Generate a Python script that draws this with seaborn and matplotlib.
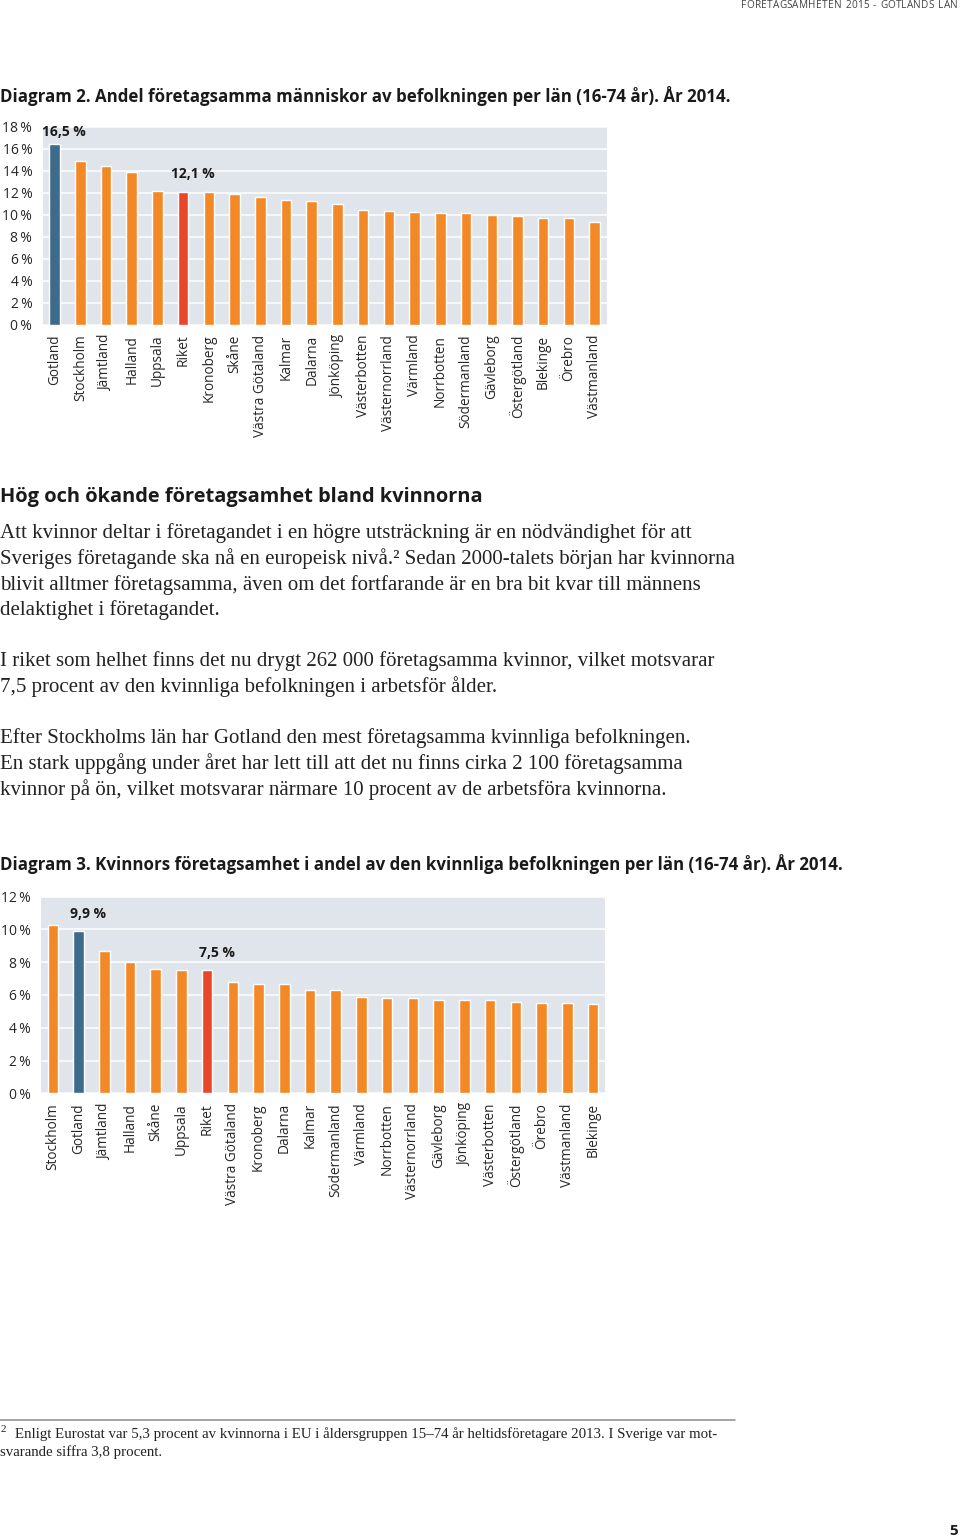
import matplotlib
matplotlib.use("Agg")
import matplotlib.pyplot as plt
import seaborn as sns
import pandas as pd

W, H = 960, 1539

# ---------------- data ----------------
lan1 = ["Gotland", "Stockholm", "Jämtland", "Halland", "Uppsala", "Riket",
        "Kronoberg", "Skåne", "Västra Götaland", "Kalmar", "Dalarna",
        "Jönköping", "Västerbotten", "Västernorrland", "Värmland", "Norrbotten",
        "Södermanland", "Gävleborg", "Östergötland", "Blekinge", "Örebro",
        "Västmanland"]
andel1 = [16.5, 14.9, 14.5, 13.9, 12.2, 12.1, 12.05, 11.95, 11.6, 11.35, 11.3,
          11.0, 10.5, 10.4, 10.3, 10.2, 10.15, 10.0, 9.9, 9.75, 9.7, 9.4]

lan2 = ["Stockholm", "Gotland", "Jämtland", "Halland", "Skåne", "Uppsala",
        "Riket", "Västra Götaland", "Kronoberg", "Dalarna", "Kalmar",
        "Södermanland", "Värmland", "Norrbotten", "Västernorrland", "Gävleborg",
        "Jönköping", "Västerbotten", "Östergötland", "Örebro", "Västmanland",
        "Blekinge"]
andel2 = [10.3, 9.9, 8.7, 8.0, 7.6, 7.5, 7.5, 6.8, 6.7, 6.65, 6.3, 6.3, 5.9,
          5.8, 5.8, 5.7, 5.7, 5.7, 5.6, 5.5, 5.5, 5.45]

labelled = {"Gotland": "blue", "Riket": "red"}
ticks1 = list(range(0, 19, 2))
ticks2 = list(range(0, 13, 2))

# ---------------- style ----------------
ORANGE = "#F38826"
BLUE = "#3D6B8C"
RED = "#E8472A"
PANEL = "#E0E5EC"
TXT = "#1A1A1A"

sns.set_style("darkgrid", {"axes.facecolor": PANEL, "grid.color": "white",
                           "axes.edgecolor": PANEL})
plt.rcParams["font.family"] = ["Open Sans", "DejaVu Sans"]

fig = plt.figure(figsize=(W / 100, H / 100), dpi=100)
fig.patch.set_facecolor("white")
renderer = fig.canvas.get_renderer()


def px_axes(l, t, r, b):
    return fig.add_axes([l / W, 1 - b / H, (r - l) / W, (b - t) / H])


def ptext(x, y, s, size=10, fit=None, **kw):
    kw.setdefault("va", "center")
    kw.setdefault("ha", "left")
    kw.setdefault("color", TXT)
    t = fig.text(x / W, 1 - y / H, s, fontsize=size, **kw)
    if fit:
        w = t.get_window_extent(renderer).width
        t.set_fontsize(size * fit / w)
    return t


def fit_size(s, width, size=10, **kw):
    t = fig.text(0, 0, s, fontsize=size, **kw)
    w = t.get_window_extent(renderer).width
    t.remove()
    return size * width / w


def spaced_text(x_left, x_right, y, s, size, **kw):
    """Letter-spaced text spread between x_left and x_right (pixels)."""
    widths = []
    for ch in s:
        t = fig.text(0, 0, ch if ch != " " else "n", fontsize=size, **kw)
        w = t.get_window_extent(renderer).width
        t.remove()
        widths.append(w * (0.55 if ch == " " else 1.0))
    gap = (x_right - x_left - sum(widths)) / (len(s) - 1)
    x = x_left
    for ch, w in zip(s, widths):
        if ch != " ":
            fig.text(x / W, 1 - y / H, ch, fontsize=size, va="center",
                     ha="left", **kw)
        x += w + gap


def draw_chart(ax, cats, vals, ticks, ax_h_px, value_fmt):
    colors = []
    for c in cats:
        if labelled.get(c) == "blue":
            colors.append(BLUE)
        elif labelled.get(c) == "red":
            colors.append(RED)
        else:
            colors.append(ORANGE)
    df = pd.DataFrame({"lan": cats, "andel": vals})
    sns.barplot(data=df, x="lan", y="andel", hue="lan", palette=colors,
                legend=False, width=0.41, saturation=1, ax=ax, zorder=3)
    ymax = ticks[-1]
    ax.set_ylim(0, ymax)
    ax.set_xlim(-0.46, len(cats) - 0.52)
    ax.set_yticks(ticks)
    ax.set_yticklabels([f"{t}\u2009%" for t in ticks])
    ax.grid(axis="y", color="white", lw=1.1)
    ax.grid(axis="x", visible=False)
    ax.set_axisbelow(True)
    ax.set_xlabel("")
    ax.set_ylabel("")
    for s in ax.spines.values():
        s.set_visible(False)
    ax.tick_params(axis="y", length=0, pad=7.5, labelsize=10, labelcolor="#262626")
    ax.tick_params(axis="x", length=0, pad=7, labelsize=9.8, labelcolor="#262626")
    for lab in ax.get_xticklabels():
        lab.set_rotation(90)
        lab.set_va("top")
        lab.set_ha("center")
    ppu = ax_h_px / ymax
    for i, (c, v) in enumerate(zip(cats, vals)):
        if c in labelled:
            y = min(v + 17.5 / ppu, ymax - 5 / ppu)
            ax.text(i + 0.38, y, value_fmt(v), ha="center", va="center",
                    fontsize=10, fontweight="bold", color=TXT)


fmt = lambda v: f"{v:.1f} %".replace(".", ",")

ax1 = px_axes(42.7, 127, 607, 325)
draw_chart(ax1, lan1, andel1, ticks1, 325 - 127, fmt)

ax2 = px_axes(41, 896.7, 605.3, 1093.3)
draw_chart(ax2, lan2, andel2, ticks2, 1093.3 - 896.7, fmt)

# ---------------- page texts ----------------
spaced_text(741, 958, 6, "FÖRETAGSAMHETEN 2015 - GOTLANDS LÄN", 7.2,
            color="#444444")

ptext(0, 96, "Diagram 2. Andel företagsamma människor av befolkningen per län "
      "(16-74 år). År 2014.", size=12, fit=727, fontweight="bold")

ptext(0, 864, "Diagram 3. Kvinnors företagsamhet i andel av den kvinnliga "
      "befolkningen per län (16-74 år). År 2014.", size=12, fit=838,
      fontweight="bold")

ptext(0, 497, "Hög och ökande företagsamhet bland kvinnorna", size=14, fit=484,
      fontweight="bold")

SERIF = ["Liberation Serif", "DejaVu Serif"]
body = [
    (533, "Att kvinnor deltar i företagandet i en högre utsträckning är en nödvändighet för att"),
    (559, "Sveriges företagande ska nå en europeisk nivå.² Sedan 2000-talets början har kvinnorna"),
    (585, "blivit alltmer företagsamma, även om det fortfarande är en bra bit kvar till männens"),
    (610, "delaktighet i företagandet."),
    (661, "I riket som helhet finns det nu drygt 262 000 företagsamma kvinnor, vilket motsvarar"),
    (687, "7,5 procent av den kvinnliga befolkningen i arbetsför ålder."),
    (738, "Efter Stockholms län har Gotland den mest företagsamma kvinnliga befolkningen."),
    (764, "En stark uppgång under året har lett till att det nu finns cirka 2 100 företagsamma"),
    (790, "kvinnor på ön, vilket motsvarar närmare 10 procent av de arbetsföra kvinnorna."),
]
bsize = fit_size(body[1][1], 734, family=SERIF)
for y, s in body:
    ptext(0, y, s, size=bsize, family=SERIF, color="#222222")

# footnote
fig.add_artist(plt.Line2D([0, 735 / W], [1 - 1420 / H, 1 - 1420 / H],
                          color="#8A8A8A", lw=1.1))
fsize = fit_size("Enligt Eurostat var 5,3 procent av kvinnorna i EU i åldersgruppen "
                 "15–74 år heltidsföretagare 2013. I Sverige var mot-", 705, family=SERIF)
ptext(1, 1430, "2", size=fsize * 0.75, family=SERIF, color="#222222")
ptext(15, 1434, "Enligt Eurostat var 5,3 procent av kvinnorna i EU i åldersgruppen "
      "15–74 år heltidsföretagare 2013. I Sverige var mot-", size=fsize,
      family=SERIF, color="#222222")
ptext(0, 1452, "svarande siffra 3,8 procent.", size=fsize, family=SERIF,
      color="#222222")

ptext(958, 1531, "5", size=11, ha="right", fontweight="bold")

fig.savefig("out.png", dpi=100, facecolor="white")
